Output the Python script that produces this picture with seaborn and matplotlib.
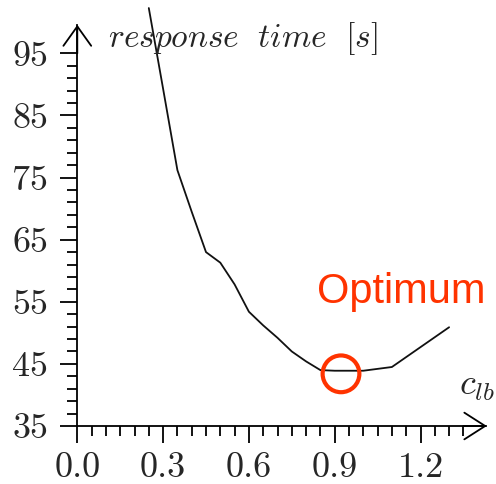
import pandas as pd
import matplotlib.pyplot as plt
import seaborn as sns

# values
c_lb = [0.25, 0.30, 0.35, 0.40, 0.45, 0.50, 0.55, 0.60, 0.65, 0.70,
        0.75, 0.80, 0.85, 0.90, 0.95, 1.00, 1.05, 1.10, 1.20, 1.30]
resp_time = [102.3, 89.3, 76.2, 69.5, 63.0, 61.3, 57.8, 53.4, 51.2, 49.2,
             47.0, 45.4, 44.0, 43.9, 43.9, 43.9, 44.2, 44.5, 47.7, 50.9]
optimum_x = [0.922]
optimum_y = [43.4]
x_ticks = [0.0, 0.3, 0.6, 0.9, 1.2]
x_labels = ["0.0", "0.3", "0.6", "0.9", "1.2"]
y_ticks = [35, 45, 55, 65, 75, 85, 95]
y_labels = ["35", "45", "55", "65", "75", "85", "95"]

df = pd.DataFrame({"c_lb": c_lb, "time": resp_time})
opt = pd.DataFrame({"c_lb": optimum_x, "time": optimum_y})

sns.set_style("white")
plt.rcParams["mathtext.fontset"] = "cm"
plt.rcParams["axes.formatter.use_mathtext"] = True

fig = plt.figure(figsize=(4.96, 4.84), dpi=100)
ax = fig.add_axes([77.3 / 496, 58 / 484, 414.7 / 496, 422.3 / 484])

sns.lineplot(data=df, x="c_lb", y="time", ax=ax, color="#111111", lw=1.3)
sns.scatterplot(data=opt, x="c_lb", y="time", ax=ax, s=700, marker="o",
                facecolor="none", edgecolor="#ff3300", linewidth=3, zorder=5)
for ln in ax.lines:
    ln.set_clip_on(False)

ax.set_xlim(0, 1.45)
ax.set_ylim(35, 103)
ax.set_xlabel("")
ax.set_ylabel("")

# ticks
ax.set_xticks(x_ticks, x_labels)
ax.set_yticks(y_ticks, y_labels)
ax.set_xticks([i * 0.05 for i in range(28)], minor=True)
ax.set_yticks(list(range(35, 97, 2)), minor=True)
ax.tick_params(which="major", direction="out", length=12, width=1.3,
               color="black", labelsize=26, pad=7, bottom=True, left=True)
ax.tick_params(axis="y", which="major", pad=9)
ax.tick_params(which="minor", direction="out", length=7, width=1.3,
               color="black", bottom=True, left=True)
for lab in ax.get_xticklabels() + ax.get_yticklabels():
    lab.set_fontfamily("cmr10")

# axes with open arrow heads
for s in ["top", "right"]:
    ax.spines[s].set_visible(False)
ax.spines["left"].set_bounds(35, 99.6)
ax.spines["bottom"].set_bounds(0, 1.43)
for s in ["left", "bottom"]:
    ax.spines[s].set_linewidth(1.3)
    ax.spines[s].set_color("black")
ax.annotate("", xy=(0, 99.6), xytext=(0, 95), annotation_clip=False,
            arrowprops=dict(arrowstyle="->,head_length=0.7,head_width=0.5",
                            mutation_scale=20, lw=1.3, color="black",
                            shrinkA=0, shrinkB=0))
ax.annotate("", xy=(1.432, 35), xytext=(1.35, 35), annotation_clip=False,
            arrowprops=dict(arrowstyle="->,head_length=0.75,head_width=0.48",
                            mutation_scale=20, lw=1.3, color="black",
                            shrinkA=0, shrinkB=0))

ax.text(0.108, 96.0, r"$response\ \ time\ \ [s]$", fontsize=24,
        ha="left", va="baseline")
ax.text(1.335, 40.0, r"$c_{lb}$", fontsize=26, ha="left", va="baseline")
ax.text(0.838, 54.8, "Optimum", fontsize=30, color="#ff3300",
        family="Liberation Sans", ha="left", va="baseline")

fig.savefig("out.png", dpi=100)
